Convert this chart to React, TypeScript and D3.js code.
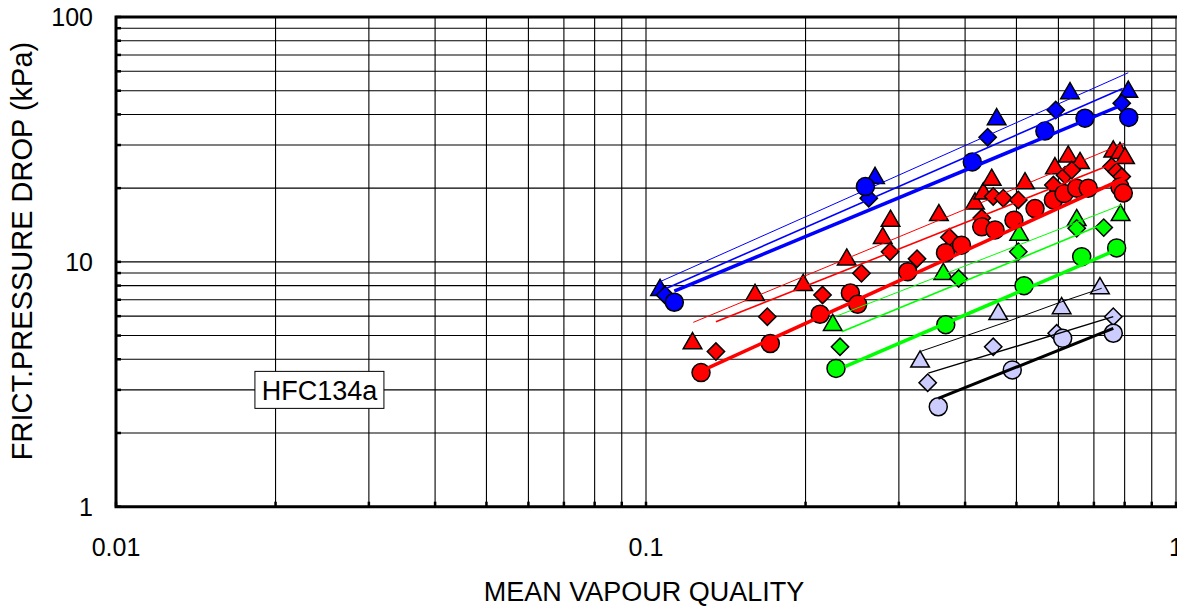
import React, { useEffect, useRef } from 'react';
import * as d3 from 'd3';

type Pt = [number, number];

// ---- data (mean vapour quality, frictional pressure drop kPa) ----
const blueTriangles: Pt[] = [[0.1063, 7.67], [0.2705, 22.0], [0.4588, 38.2], [0.631, 48.8], [0.8128, 49.5]];
const blueDiamonds: Pt[] = [[0.1086, 7.32], [0.2632, 18.2], [0.4412, 32.3], [0.593, 41.7], [0.79, 44.4]];
const blueCircles: Pt[] = [[0.1131, 6.84], [0.2594, 20.3], [0.4127, 25.6], [0.5657, 34.2], [0.6734, 38.6], [0.8144, 38.9]];

const redTriangles: Pt[] = [
  [0.1224, 4.65], [0.1606, 7.32], [0.198, 8.04], [0.2392, 10.2], [0.2797, 12.5], [0.2893, 14.7],
  [0.357, 15.5], [0.4176, 17.3], [0.4329, 19.0], [0.449, 21.6], [0.5189, 20.9], [0.591, 24.1],
  [0.626, 26.9], [0.659, 25.3], [0.7615, 28.2], [0.784, 27.8], [0.8013, 26.5],
];
const redDiamonds: Pt[] = [
  [0.1355, 4.3], [0.1694, 5.97], [0.2153, 7.32], [0.255, 8.98], [0.2887, 11.0], [0.3246, 10.3],
  [0.3737, 12.6], [0.43, 15.1], [0.452, 18.5], [0.4722, 18.2], [0.504, 17.9], [0.587, 20.6],
  [0.6176, 22.6], [0.6357, 23.7], [0.7561, 24.5], [0.7727, 23.4], [0.79, 22.3],
];
const redCircles: Pt[] = [
  [0.127, 3.53], [0.1716, 4.64], [0.213, 6.11], [0.243, 7.46], [0.2508, 6.71], [0.3118, 9.12],
  [0.3674, 10.9], [0.3938, 11.7], [0.43, 13.9], [0.4556, 13.5], [0.4946, 14.8], [0.542, 16.5],
  [0.587, 17.9], [0.615, 19.0], [0.6496, 20.0], [0.683, 20.0], [0.784, 20.2], [0.7954, 19.1],
];

const greenTriangles: Pt[] = [[0.2251, 5.52], [0.3639, 8.92], [0.506, 12.9], [0.6496, 14.8], [0.786, 15.5]];
const greenDiamonds: Pt[] = [[0.2323, 4.5], [0.389, 8.55], [0.504, 11.0], [0.6496, 13.7], [0.7306, 13.8]];
const greenCircles: Pt[] = [[0.2283, 3.67], [0.3678, 5.54], [0.5167, 7.99], [0.6639, 10.5], [0.7727, 11.4]];

const lilacTriangles: Pt[] = [[0.3289, 3.91], [0.462, 6.11], [0.6085, 6.46], [0.7187, 7.8]];
const lilacDiamonds: Pt[] = [[0.34, 3.21], [0.452, 4.5], [0.5955, 5.11], [0.7615, 5.97]];
const lilacCircles: Pt[] = [[0.356, 2.56], [0.491, 3.62], [0.6112, 4.87], [0.7615, 5.11]];

// fitted trend lines
const blueFitThin: Pt[] = [[0.1063, 8.3], [0.8128, 59.2]];
const blueFitMid: Pt[] = [[0.1086, 7.75], [0.7934, 51.1]];
const blueFitThick: Pt[] = [[0.1131, 7.6], [0.777, 43.0]];
const redFitThin: Pt[] = [[0.1228, 5.66], [0.7977, 30.5]];
const redFitMid: Pt[] = [[0.1355, 5.69], [0.7943, 26.1]];
const redFitThick: Pt[] = [[0.127, 3.58], [0.807, 22.2]];
const greenFitThin: Pt[] = [[0.2273, 5.97], [0.79, 17.1]];
const greenFitMid: Pt[] = [[0.234, 5.18], [0.7312, 14.3]];
const greenFitThick: Pt[] = [[0.2373, 3.73], [0.7727, 11.2]];
const lilacFitThin: Pt[] = [[0.3289, 4.3], [0.4793, 5.69], [0.6085, 6.87], [0.7241, 7.8]];
const lilacFitMid: Pt[] = [[0.3409, 3.51], [0.7615, 5.97]];
const lilacFitThick: Pt[] = [[0.356, 2.77], [0.7615, 5.35]];

const xTickValues = [0.01, 0.1, 1];
const xTickLabels = ['0.01', '0.1', '1'];
const yTickValues = [1, 10, 100];
const yTickLabels = ['1', '10', '100'];

const annotation = { text: 'HFC134a', x: 0.0242, y: 3.0 };

const BLUE = '#0000ff';
const RED = '#ff0000';
const GREEN = '#00ff00';
const LILAC = '#ccccff';

const markerSeries = [
  { pts: blueTriangles, shape: 'tri', fill: BLUE },
  { pts: blueDiamonds, shape: 'dia', fill: BLUE },
  { pts: blueCircles, shape: 'cir', fill: BLUE },
  { pts: redTriangles, shape: 'tri', fill: RED },
  { pts: redDiamonds, shape: 'dia', fill: RED },
  { pts: redCircles, shape: 'cir', fill: RED },
  { pts: greenTriangles, shape: 'tri', fill: GREEN },
  { pts: greenDiamonds, shape: 'dia', fill: GREEN },
  { pts: greenCircles, shape: 'cir', fill: GREEN },
  { pts: lilacTriangles, shape: 'tri', fill: LILAC },
  { pts: lilacDiamonds, shape: 'dia', fill: LILAC },
  { pts: lilacCircles, shape: 'cir', fill: LILAC },
];

const fitSeries = [
  { pts: blueFitThin, color: BLUE, w: 1 },
  { pts: blueFitMid, color: BLUE, w: 1.6 },
  { pts: blueFitThick, color: BLUE, w: 3.5 },
  { pts: redFitThin, color: RED, w: 1 },
  { pts: redFitMid, color: RED, w: 1.6 },
  { pts: redFitThick, color: RED, w: 3.5 },
  { pts: greenFitThin, color: GREEN, w: 1 },
  { pts: greenFitMid, color: GREEN, w: 1.6 },
  { pts: greenFitThick, color: GREEN, w: 3.5 },
  { pts: lilacFitThin, color: '#000', w: 1 },
  { pts: lilacFitMid, color: '#000', w: 1.4 },
  { pts: lilacFitThick, color: '#000', w: 3 },
];

const WIDTH = 1177;
const HEIGHT = 606;
const FONT = '"Liberation Sans", Arial, Helvetica, sans-serif';

const App = () => {
  const ref = useRef<SVGSVGElement | null>(null);

  useEffect(() => {
    if (!ref.current) return;
    const svg = d3.select(ref.current);
    svg.selectAll('*').remove();

    const left = 116, right = 1176, top = 17, bottom = 506.7;
    const x = d3.scaleLog().domain([0.01, 1]).range([left, right]);
    const y = d3.scaleLog().domain([1, 100]).range([bottom, top]);

    // grid
    const grid = svg.append('g').attr('stroke', '#000').attr('stroke-width', 1.1);
    grid.selectAll('.vx').data(x.ticks()).enter().append('line')
      .attr('x1', d => x(d)).attr('x2', d => x(d)).attr('y1', top).attr('y2', bottom);
    grid.selectAll('.hy').data(y.ticks()).enter().append('line')
      .attr('x1', left).attr('x2', right).attr('y1', d => y(d)).attr('y2', d => y(d));

    // annotation box
    const ax = x(annotation.x), ay = y(annotation.y);
    svg.append('rect')
      .attr('x', ax - 64.5).attr('y', ay - 18.5).attr('width', 129).attr('height', 37)
      .attr('fill', '#fff').attr('stroke', '#000').attr('stroke-width', 1);
    svg.append('text')
      .attr('x', ax).attr('y', ay).attr('dy', '0.36em')
      .attr('text-anchor', 'middle').attr('font-family', FONT).attr('font-size', 27)
      .text(annotation.text);

    // markers
    const tri = d3.symbol().type(d3.symbolTriangle).size(150)();
    const dia = d3.symbol().type(d3.symbolSquare).size(150)();
    markerSeries.forEach(s => {
      const g = svg.append('g').attr('fill', s.fill).attr('stroke', '#000').attr('stroke-width', 1.5);
      if (s.shape === 'cir') {
        g.selectAll('circle').data(s.pts).enter().append('circle')
          .attr('cx', d => x(d[0])).attr('cy', d => y(d[1])).attr('r', 9);
      } else {
        g.selectAll('path').data(s.pts).enter().append('path')
          .attr('d', s.shape === 'tri' ? tri : dia)
          .attr('transform', d => `translate(${x(d[0])},${y(d[1])})${s.shape === 'dia' ? ' rotate(45)' : ''}`);
      }
    });

    // trend lines
    const line = d3.line<Pt>().x(d => x(d[0])).y(d => y(d[1]));
    fitSeries.forEach(f => {
      svg.append('path').datum(f.pts)
        .attr('d', line).attr('fill', 'none')
        .attr('stroke', f.color).attr('stroke-width', f.w);
    });

    // ticks (inside)
    const ticks = svg.append('g').attr('stroke', '#000').attr('stroke-width', 2.5);
    ticks.selectAll('.bt').data(x.ticks()).enter().append('line')
      .attr('x1', d => x(d)).attr('x2', d => x(d)).attr('y1', bottom).attr('y2', bottom - 5);
    ticks.selectAll('.lt').data(y.ticks()).enter().append('line')
      .attr('x1', left).attr('x2', left + 5).attr('y1', d => y(d)).attr('y2', d => y(d));

    // frame
    svg.append('path')
      .attr('d', `M${right + 2},${top} H${left} V${bottom} H${right + 2}`)
      .attr('fill', 'none').attr('stroke', '#000').attr('stroke-width', 3);

    // tick labels
    const lab = svg.append('g').attr('font-family', FONT).attr('font-size', 25).attr('fill', '#000');
    lab.selectAll('.xl').data(xTickValues).enter().append('text')
      .attr('x', d => x(d)).attr('y', 556).attr('text-anchor', 'middle')
      .text((d, i) => xTickLabels[i]);
    lab.selectAll('.yl').data(yTickValues).enter().append('text')
      .attr('x', 93).attr('y', d => y(d)).attr('dy', '0.36em').attr('text-anchor', 'end')
      .text((d, i) => yTickLabels[i]);

    // axis titles
    svg.append('text')
      .attr('x', 644).attr('y', 601).attr('text-anchor', 'middle')
      .attr('font-family', FONT).attr('font-size', 27)
      .text('MEAN VAPOUR QUALITY');
    svg.append('text')
      .attr('transform', 'translate(32,251) rotate(-90)').attr('text-anchor', 'middle')
      .attr('font-family', FONT).attr('font-size', 29)
      .text('FRICT.PRESSURE DROP (kPa)');
  }, []);

  return (
    <svg ref={ref} width={WIDTH} height={HEIGHT}
      style={{ position: 'absolute', left: 0, top: 0, background: '#fff' }} />
  );
};

export default App;
